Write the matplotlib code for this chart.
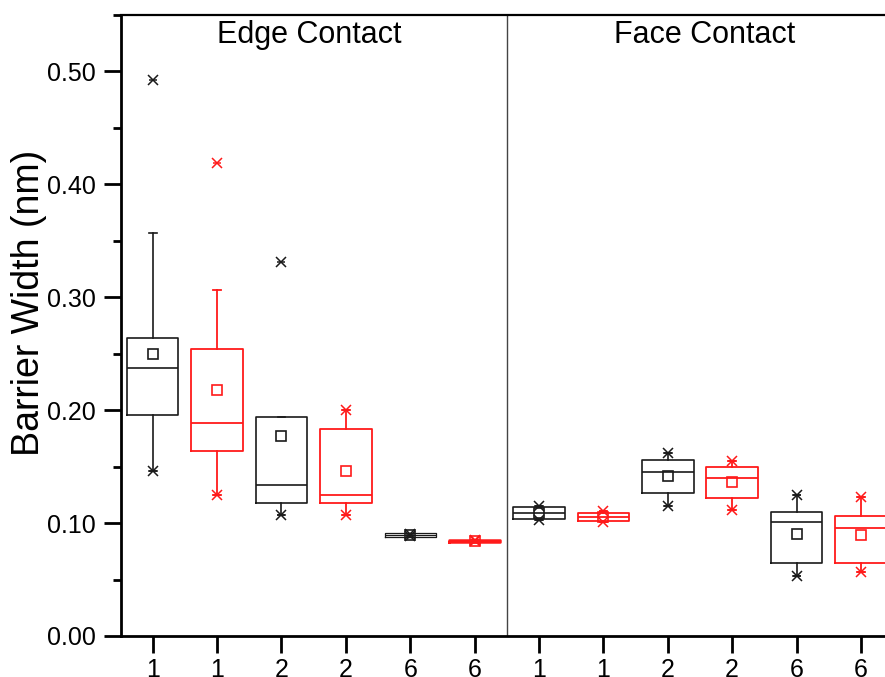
import matplotlib
matplotlib.use('Agg')
import matplotlib.pyplot as plt
from matplotlib.ticker import MultipleLocator, FormatStrFormatter

plt.rcParams['font.family'] = ['Liberation Sans', 'DejaVu Sans']

# box chart values (nm)
labels = ['1', '1', '2', '2', '6', '6', '1', '1', '2', '2', '6', '6']
q1 = [0.196, 0.164, 0.118, 0.118, 0.0876, 0.0836, 0.1032, 0.1020, 0.1265, 0.1225, 0.0649, 0.0649]
q3 = [0.264, 0.254, 0.194, 0.183, 0.0910, 0.0850, 0.1139, 0.1085, 0.156, 0.150, 0.1094, 0.1062]
med = [0.237, 0.189, 0.134, 0.1245, 0.0893, 0.0843, 0.109, 0.1056, 0.145, 0.1395, 0.1012, 0.0958]
mean = [0.250, 0.218, 0.177, 0.146, 0.0893, 0.0843, 0.1085, 0.1056, 0.1416, 0.136, 0.0906, 0.0894]
whislo = [0.146, 0.1245, 0.107, 0.107, 0.0876, 0.0836, 0.1027, 0.1005, 0.1154, 0.1115, 0.0534, 0.0564]
whishi = [0.357, 0.306, 0.194, 0.200, 0.0910, 0.0850, 0.115, 0.111, 0.162, 0.1546, 0.1245, 0.1233]
ext_lo = [0.146, 0.1245, 0.107, 0.107, 0.0884, 0.0840, 0.1027, 0.1005, 0.1154, 0.1115, 0.0534, 0.0564]
ext_hi = [0.492, 0.419, 0.331, 0.200, 0.0900, 0.0846, 0.115, 0.111, 0.162, 0.1546, 0.1245, 0.1233]
groups = ['Edge Contact', 'Face Contact']

colors = ['#1a1a1a', '#ff1a1a'] * 6
lws = [1.2, 1.3, 1.2, 1.3, 0.9, 1.8, 1.2, 1.3, 1.2, 1.3, 1.2, 1.3]

fig = plt.figure(figsize=(8.85, 6.77), dpi=100)
ax = fig.add_axes([0.1362, 0.0606, 0.873, 0.9173])

positions = list(range(1, len(labels) + 1))
for i, pos in enumerate(positions):
    c = colors[i]
    lw = lws[i]
    st = [{'med': med[i], 'q1': q1[i], 'q3': q3[i], 'whislo': whislo[i],
           'whishi': whishi[i], 'mean': mean[i], 'fliers': []}]
    ax.bxp(st, positions=[pos], widths=0.8, capwidths=0.12, showmeans=True,
           showfliers=False,
           boxprops=dict(color=c, linewidth=lw),
           medianprops=dict(color=c, linewidth=lw),
           whiskerprops=dict(color=c, linewidth=lw),
           capprops=dict(color=c, linewidth=lw),
           meanprops=dict(marker='s', markersize=6.5, markerfacecolor='none',
                          markeredgecolor=c, markeredgewidth=1.2))
    for v in (ext_lo[i], ext_hi[i]):
        ax.plot(pos, v, marker='x', ms=7, color=c, mew=1.1, linestyle='none')
        ax.plot(pos, v, marker='_', ms=6, color=c, mew=1.1, linestyle='none')

ax.axvline(6.5, color='#444444', linewidth=1.0)
ax.text(3.43, 0.525, groups[0], ha='center', va='baseline', fontsize=22)
ax.text(9.57, 0.525, groups[1], ha='center', va='baseline', fontsize=22)

ax.set_xlim(0.5, 12.5)
ax.set_ylim(0, 0.55)
ax.set_xticks(positions)
ax.set_xticklabels(labels)
ax.yaxis.set_major_locator(MultipleLocator(0.1))
ax.yaxis.set_minor_locator(MultipleLocator(0.05))
ax.yaxis.set_major_formatter(FormatStrFormatter('%.2f'))
ax.tick_params(axis='both', which='major', direction='out', length=12, width=2, labelsize=18, pad=6)
ax.tick_params(axis='x', which='major', pad=4)
ax.tick_params(axis='y', which='minor', direction='out', length=6, width=2)
ax.set_ylabel('Barrier Width (nm)', fontsize=27)
ax.yaxis.set_label_coords(-0.095, 0.536)

for s in ['left', 'bottom']:
    ax.spines[s].set_linewidth(2)
ax.spines['top'].set_linewidth(1.6)
ax.spines['right'].set_linewidth(1.6)

fig.savefig('out.png', dpi=100)
